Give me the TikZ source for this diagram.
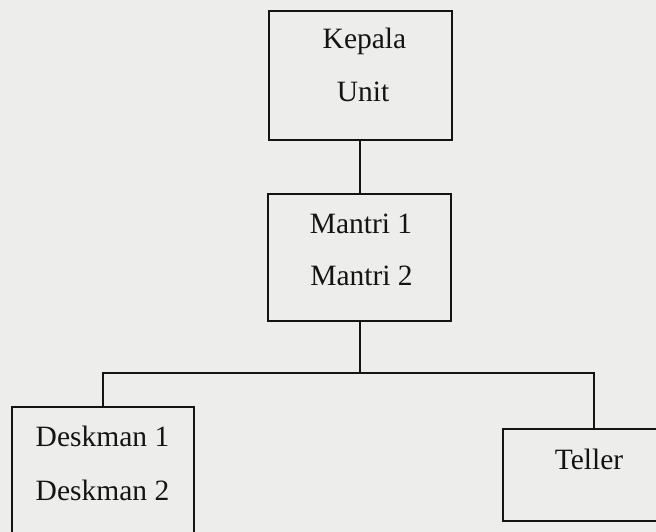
\documentclass[tikz,border=0pt]{standalone}
\usepackage{fontspec}
\setmainfont{Liberation Serif}
\definecolor{paper}{RGB}{237,237,235}
\definecolor{ink}{RGB}{20,20,20}
\begin{document}
\begin{tikzpicture}[x=1pt,y=-1pt,
  box/.style={draw=ink,line width=1.8pt,rectangle,inner sep=0pt},
  lbl/.style={inner sep=0pt,anchor=base,text=ink,font=\fontsize{29.5}{30}\selectfont},
  conn/.style={draw=ink,line width=1.8pt}]
\fill[paper] (0,0) rectangle (656,532);
\useasboundingbox (0,0) rectangle (656,532);
\clip (0,0) rectangle (656,532);
% boxes
\node[box,minimum width=183pt,minimum height=129pt] (kepala) at (360.5,75.5) {};
\node[box,minimum width=183pt,minimum height=127pt] (mantri) at (359.5,257.5) {};
\node[box,minimum width=182pt,minimum height=163pt] (desk) at (103,488.5) {};
\node[box,minimum width=182pt,minimum height=92pt] (teller) at (594,475) {};
% labels
\node[lbl] (t1) at (364.5,49) {Kepala};
\node[lbl] (t2) at (363,102) {Unit};
\node[lbl] (t3) at (361,233) {Mantri 1};
\node[lbl] (t4) at (361.5,285) {Mantri 2};
\node[lbl] (t5) at (102.5,446) {Deskman 1};
\node[lbl] (t6) at (102.5,500) {Deskman 2};
\node[lbl] (t7) at (589,469) {Teller};
% connectors
\coordinate (jn) at (360,373);
\draw[conn] (kepala.south -| jn) -- (mantri.north -| jn);
\draw[conn] (mantri.south -| jn) -- (jn);
\draw[conn] (desk.north) |- (jn) -| (teller.north);
\end{tikzpicture}
\end{document}
